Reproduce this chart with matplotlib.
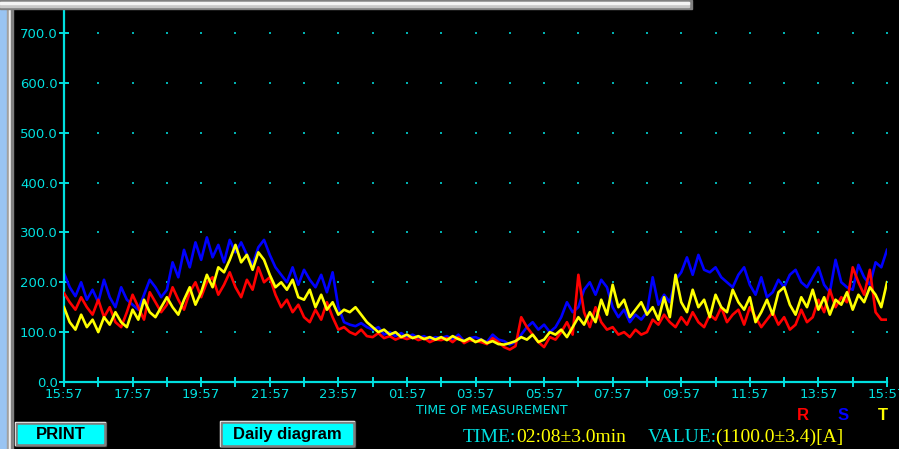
import matplotlib
matplotlib.use("Agg")
import matplotlib.pyplot as plt
from matplotlib.patches import Rectangle
import numpy as np

# ---------------- data ----------------
start_hour = 15  # 15:57
tick_hours = list(range(0, 25))
y_ticks = [0, 100, 200, 300, 400, 500, 600, 700]

# 10-minute samples over 24 h (145 values)
S_blue = [
    218, 190, 172, 200, 165, 185,
    160, 205, 170, 150, 190, 165,
    155, 145, 175, 205, 190, 170,
    185, 240, 210, 265, 230, 280,
    245, 290, 250, 275, 240, 285,
    260, 280, 255, 235, 270, 285,
    255, 230, 215, 200, 230, 195,
    225, 205, 190, 215, 180, 220,
    150, 120, 115, 112, 118, 110,
    105, 110, 95, 100, 92, 98,
    90, 95, 88, 92, 85, 90,
    88, 92, 85, 95, 82, 88,
    90, 85, 80, 95, 85, 82,
    75, 80, 95, 110, 120, 105,
    115, 100, 110, 130, 160, 140,
    150, 185, 200, 175, 205, 190,
    150, 130, 145, 120, 135, 125,
    140, 210, 155, 175, 160, 205,
    220, 250, 215, 255, 225, 220,
    230, 210, 200, 190, 215, 230,
    195, 175, 210, 170, 180, 205,
    190, 215, 225, 200, 190, 210,
    230, 195, 180, 245, 200, 190,
    185, 235, 210, 195, 240, 230,
    265,
]
R_red = [
    178, 160, 145, 170, 150, 135,
    165, 130, 150, 120, 110, 140,
    175, 150, 125, 180, 160, 140,
    155, 190, 165, 145, 180, 200,
    170, 200, 210, 175, 195, 220,
    190, 170, 205, 185, 230, 200,
    210, 175, 150, 165, 140, 155,
    130, 120, 145, 125, 160, 130,
    105, 110, 100, 95, 105, 92,
    90, 98, 88, 92, 85, 90,
    86, 90, 84, 88, 80, 85,
    84, 88, 80, 90, 78, 84,
    82, 80, 76, 88, 80, 70,
    65, 72, 130, 110, 95, 80,
    70, 90, 85, 100, 120, 95,
    215, 140, 110, 150, 120, 105,
    110, 95, 100, 90, 105, 95,
    100, 125, 115, 135, 120, 110,
    130, 115, 140, 120, 110, 135,
    125, 150, 120, 135, 145, 115,
    150, 130, 110, 125, 140, 115,
    130, 105, 115, 145, 120, 130,
    165, 140, 185, 150, 170, 160,
    230, 200, 175, 225, 140, 125,
    125,
]
T_yellow = [
    150, 120, 105, 135, 110, 125,
    100, 130, 115, 140, 120, 110,
    145, 125, 165, 140, 130, 150,
    170, 150, 135, 165, 190, 155,
    180, 215, 190, 230, 220, 245,
    275, 240, 255, 225, 260, 245,
    215, 190, 200, 185, 205, 170,
    165, 185, 150, 175, 145, 160,
    135, 145, 140, 150, 135, 120,
    110, 100, 105, 95, 100, 90,
    95, 88, 92, 86, 90, 85,
    90, 84, 92, 86, 82, 88,
    80, 85, 78, 82, 76, 75,
    78, 82, 90, 85, 95, 80,
    85, 100, 95, 105, 90, 110,
    130, 115, 140, 120, 165, 135,
    195, 150, 165, 130, 145, 160,
    135, 150, 125, 170, 130, 215,
    160, 140, 185, 150, 165, 130,
    175, 150, 140, 185, 160, 145,
    170, 120, 140, 165, 135, 180,
    190, 155, 135, 170, 150, 185,
    145, 170, 135, 165, 155, 180,
    145, 175, 160, 190, 175, 150,
    200,
]
hours = np.arange(len(S_blue)) / 6.0

# ---------------- figure ----------------
W, H = 899, 449
fig = plt.figure(figsize=(W / 100, H / 100), dpi=100, facecolor="black")

def fx(x):
    return x / W

def fy(y):
    return 1 - y / H

CYAN = "#00E0E0"
DOT = "#00B0B0"

# window chrome
fig.patches.append(Rectangle((0, 0), fx(7), 1, transform=fig.transFigure, color="#99C4F2", zorder=0))
fig.patches.append(Rectangle((fx(7), 0), fx(2), 1, transform=fig.transFigure, color="#A0A0A0", zorder=0))
fig.patches.append(Rectangle((fx(9), 0), fx(2), 1, transform=fig.transFigure, color="#F0F0F0", zorder=0))
fig.patches.append(Rectangle((fx(11), 0), fx(1.5), 1, transform=fig.transFigure, color="#808080", zorder=0))
# top bar
fig.patches.append(Rectangle((0, fy(9)), fx(692), 9 / H, transform=fig.transFigure, color="#808080", zorder=0))
fig.patches.append(Rectangle((0, fy(7)), fx(689), 5 / H, transform=fig.transFigure, color="#C8C8C8", zorder=0))
fig.patches.append(Rectangle((0, fy(4)), fx(689), 1.5 / H, transform=fig.transFigure, color="#F4F4F4", zorder=0))

# axes
x0, x1 = 64, 887
y0, y1 = 382, 8
ax = fig.add_axes([fx(x0), fy(y0), fx(x1) - fx(x0), (y0 - y1) / H])
ax.set_facecolor("none")
ax.set_xlim(0, 24)
ax.set_ylim(0, 750)
for side in ["top", "right"]:
    ax.spines[side].set_visible(False)
for side in ["left", "bottom"]:
    ax.spines[side].set_color(CYAN)
    ax.spines[side].set_linewidth(1.6)

# grid dots
gx, gy = np.meshgrid(tick_hours[1:], y_ticks[1:])
ax.scatter(gx.ravel(), gy.ravel(), s=2.6, marker="s", color=DOT, linewidths=0, zorder=1)

ax.plot(hours, S_blue, color="#0000FF", lw=1.9, zorder=2)
ax.plot(hours, R_red, color="#FF0000", lw=1.9, zorder=3)
ax.plot(hours, T_yellow, color="#FFFF00", lw=1.9, zorder=4)

ax.set_xticks(tick_hours)
ax.set_xticklabels([f"{(start_hour + h) % 24:02d}:57" if h % 2 == 0 else "" for h in tick_hours])
ax.set_yticks(y_ticks)
ax.set_yticklabels([f"{v:.1f}" for v in y_ticks])
ax.tick_params(axis="both", direction="inout", length=7, width=1.4, color=CYAN,
               labelcolor=CYAN, labelsize=9.5)
ax.tick_params(axis="y", pad=1)
ax.tick_params(axis="x", pad=1)

# labels
fig.text(fx(492), fy(410), "TIME OF MEASUREMENT", color=CYAN, fontsize=9,
         ha="center", va="center")
for lab, col, xx in [("R", "#FF0000", 803), ("S", "#0000FF", 843), ("T", "#FFFF00", 883)]:
    fig.text(fx(xx), fy(415), lab, color=col, fontsize=12, fontweight="bold",
             ha="center", va="center", family="Liberation Sans")

ser = "Liberation Serif"
fig.text(fx(463), fy(437), "TIME:", color=CYAN, fontsize=14, family=ser, ha="left", va="center")
fig.text(fx(516), fy(437), "02:08±3.0min", color="#FFFF00", fontsize=14, family=ser, ha="left", va="center")
fig.text(fx(648), fy(437), "VALUE:", color=CYAN, fontsize=14, family=ser, ha="left", va="center")
fig.text(fx(715), fy(437), "(1100.0±3.4)[A]", color="#FFFF00", fontsize=14, family=ser, ha="left", va="center")

# buttons
def button(xa, ya, xb, yb, label):
    w = (xb - xa) / W
    h = (yb - ya) / H
    fig.patches.append(Rectangle((fx(xa), fy(yb)), w, h, transform=fig.transFigure,
                                 color="#404040", zorder=5))
    fig.patches.append(Rectangle((fx(xa), fy(yb - 1)), (xb - xa - 1) / W, (yb - ya - 1) / H,
                                 transform=fig.transFigure, color="#F0F0F0", zorder=6))
    fig.patches.append(Rectangle((fx(xa + 1), fy(yb - 1)), (xb - xa - 2) / W, (yb - ya - 2) / H,
                                 transform=fig.transFigure, color="#808080", zorder=7))
    fig.patches.append(Rectangle((fx(xa + 3), fy(yb - 3)), (xb - xa - 6) / W, (yb - ya - 6) / H,
                                 transform=fig.transFigure, color="#00FFFF", zorder=8))
    fig.text(fx((xa + xb) / 2), fy((ya + yb) / 2 + 0.5), label, color="black", fontsize=12,
             fontweight="bold", family="Liberation Sans", ha="center", va="center", zorder=9)

button(15, 422, 106, 446, "PRINT")
button(220, 421, 355, 447, "Daily diagram")

fig.savefig("out.png", dpi=100, facecolor="black")
